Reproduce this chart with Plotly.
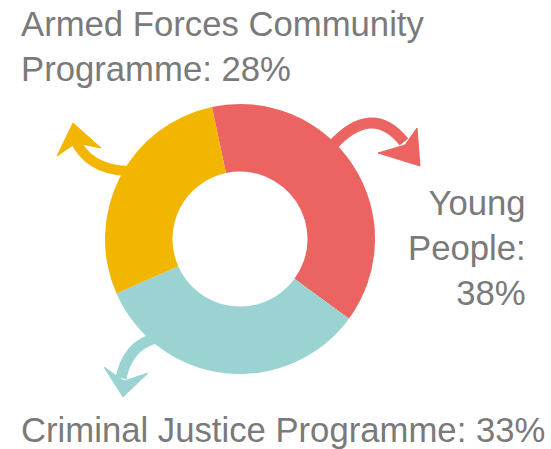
import plotly.graph_objects as go

labels = ["Young People", "Criminal Justice Programme", "Armed Forces Community Programme"]
values = [38, 33, 28]
colors = ["#EC6461", "#9AD3D2", "#F2B600"]

W, H = 551, 449
cx, cy, R = 240, 239, 135

fig = go.Figure()
fig.add_trace(go.Pie(
    labels=labels, values=values, hole=0.5, sort=False, direction="clockwise",
    rotation=-12, marker=dict(colors=colors, line=dict(width=0)),
    textinfo="none", hoverinfo="label+percent", showlegend=False,
    domain=dict(x=[(cx - R) / W, (cx + R) / W], y=[(H - cy - R) / H, (H - cy + R) / H]),
))

# decorative arrows (pixel coordinate overlay axes)
shapes = []
def stem(path, color, w):
    shapes.append(dict(type="path", path=path, line=dict(color=color, width=w), xref="x", yref="y", layer="above"))
def head(path, color):
    shapes.append(dict(type="path", path=path, fillcolor=color, line=dict(color=color, width=1), xref="x", yref="y", layer="above"))

stem("M 128,171 Q 88,170 74,138", colors[2], 10)
head("M 73,123 L 57,156 L 76,143 L 101,148 Z", colors[2])

stem("M 332,146 Q 372,102 404,142", colors[0], 11)
head("M 417,128 L 420,166 L 378,153 L 405,145 Z", colors[0])

stem("M 156,338 Q 128,345 121,378", colors[1], 11)
head("M 104,367 L 123,397 L 148,373 L 124,381 Z", colors[1])

fig.update_layout(shapes=shapes)

pct = [f"{v}%" for v in values]
font = dict(family="Liberation Sans, Arial, sans-serif", size=34.7, color="#7a7a7a")
ann = [
    dict(x=20, y=0, yshift=-4, text=f"Armed Forces Community<br>Programme: {pct[2]}", xanchor="left", yanchor="top", align="left"),
    dict(x=527, y=183, text=f"Young<br>People:<br>{pct[0]}", xanchor="right", yanchor="top", align="right"),
    dict(x=20, y=410, text=f"Criminal Justice Programme: {pct[1]}", xanchor="left", yanchor="top", align="left"),
]
for a in ann:
    a.update(xref="x", yref="y", showarrow=False, font=font, borderpad=0)
fig.update_layout(annotations=ann)

fig.update_layout(
    width=W, height=H, margin=dict(l=0, r=0, t=0, b=0),
    paper_bgcolor="white", plot_bgcolor="rgba(0,0,0,0)",
    xaxis=dict(range=[0, W], visible=False, domain=[0, 1], fixedrange=True),
    yaxis=dict(range=[H, 0], visible=False, domain=[0, 1], fixedrange=True),
)

fig.write_html("out.html", config={"displayModeBar": False},
               post_script="document.body.style.margin='0';document.body.style.overflow='hidden';")
